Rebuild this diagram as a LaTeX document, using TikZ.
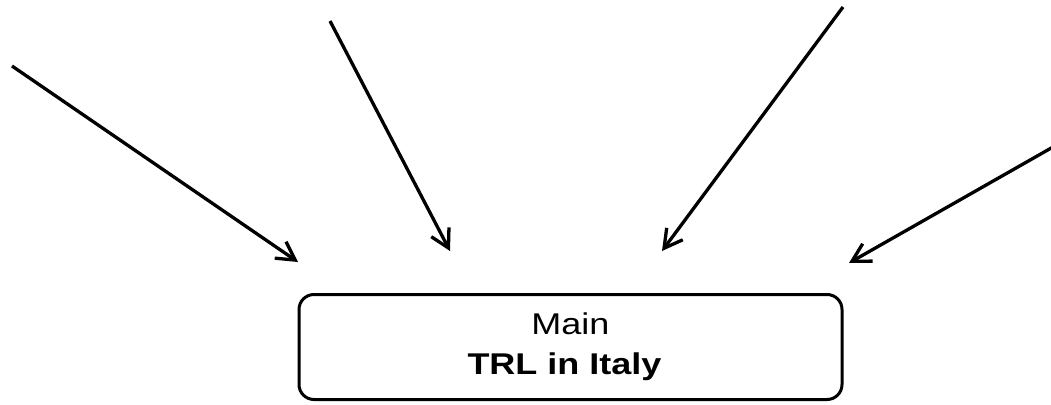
\documentclass[tikz,border=0pt]{standalone}
\usepackage{fontspec}
\setmainfont{Liberation Sans}[FakeStretch=1.2]
\usetikzlibrary{arrows.meta}
\begin{document}
\begin{tikzpicture}[x=1pt,y=-1pt,
  mainbox/.style={draw, line width=3pt, rounded corners=15pt, minimum width=543pt, minimum height=105pt, align=center, inner sep=0pt, font=\fontsize{30}{40}\selectfont},
  feed/.style={line width=3.3pt, -{Straight Barb[length=18pt,width=20pt]}}]
\useasboundingbox (0,0) rectangle (1051,404);
\node[mainbox] (main) at (570.5,347) {Main\\\textbf{TRL in Italy}\hspace*{12pt}};
\coordinate (s1) at (12,66);
\coordinate (t1) at (298,262);
\coordinate (s2) at (330,21);
\coordinate (t2) at (450,251);
\coordinate (s3) at (843,7);
\coordinate (t3) at (662,251);
\coordinate (s4) at (1053,147);
\coordinate (t4) at (849,263);
\draw[feed] (s1) -- (t1);
\draw[feed] (s2) -- (t2);
\draw[feed] (s3) -- (t3);
\draw[feed] (s4) -- (t4);
\end{tikzpicture}
\end{document}
